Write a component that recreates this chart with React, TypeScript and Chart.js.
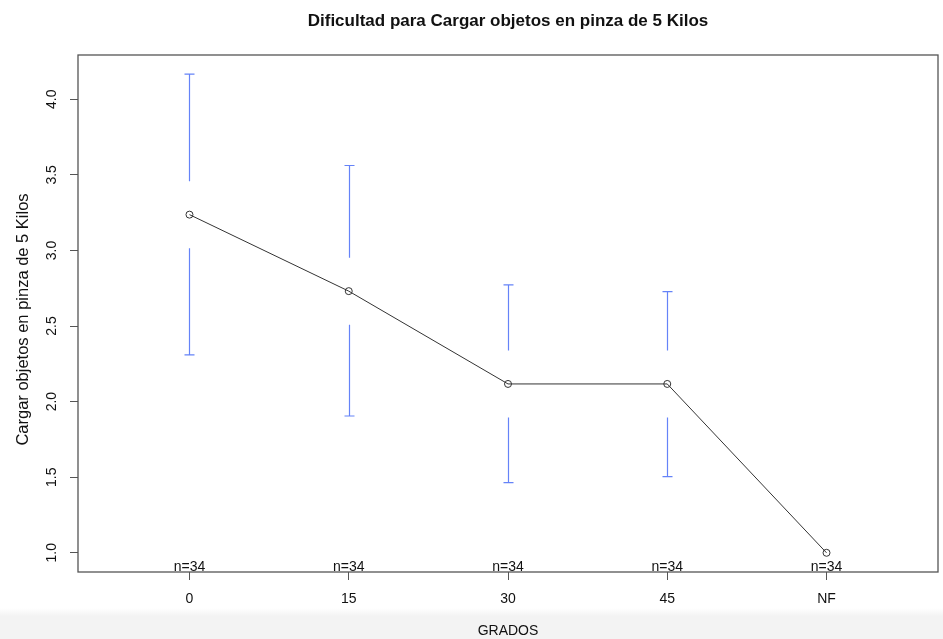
import React, { useEffect, useRef } from "react";
import { Chart, registerables } from "chart.js";

Chart.register(...registerables);

const categories = ["0", "15", "30", "45", "NF"];
const means = [3.237, 2.731, 2.117, 2.117, 1.0];
const upper = [4.167, 3.562, 2.772, 2.728, 1.0];
const lower = [2.309, 1.905, 1.464, 1.504, 1.0];
const counts = ["n=34", "n=34", "n=34", "n=34", "n=34"];
const yTicks = [1.0, 1.5, 2.0, 2.5, 3.0, 3.5, 4.0];

const TITLE = "Dificultad para Cargar objetos en pinza de 5 Kilos";
const X_TITLE = "GRADOS";
const Y_TITLE = "Cargar objetos en pinza de 5 Kilos";
const FONT = "'Liberation Sans', Arial, Helvetica, sans-serif";

const decorPlugin = {
  id: "decor",
  afterDatasetsDraw(chart: any) {
    const { ctx, chartArea, scales } = chart;
    const xs = scales.x;
    const ys = scales.y;
    ctx.save();
    // error bars
    const gap = 33.5;
    const cap = 5;
    ctx.strokeStyle = "#6583f8";
    ctx.lineWidth = 1.2;
    for (let i = 0; i < means.length; i++) {
      const px = Math.round(xs.getPixelForValue(i + 1)) + 0.5;
      const pm = ys.getPixelForValue(means[i]);
      const pu = ys.getPixelForValue(upper[i]);
      const pl = ys.getPixelForValue(lower[i]);
      if (pm - pu > gap) {
        ctx.beginPath();
        ctx.moveTo(px, pu);
        ctx.lineTo(px, pm - gap);
        ctx.moveTo(px - cap, pu);
        ctx.lineTo(px + cap, pu);
        ctx.stroke();
      }
      if (pl - pm > gap) {
        ctx.beginPath();
        ctx.moveTo(px, pl);
        ctx.lineTo(px, pm + gap);
        ctx.moveTo(px - cap, pl);
        ctx.lineTo(px + cap, pl);
        ctx.stroke();
      }
    }
    // n labels
    ctx.fillStyle = "#111";
    ctx.font = `14px ${FONT}`;
    ctx.textAlign = "center";
    ctx.textBaseline = "alphabetic";
    for (let i = 0; i < counts.length; i++) {
      const px = xs.getPixelForValue(i + 1);
      ctx.fillText(counts[i], px, chartArea.bottom - 1.5);
    }
    // box
    ctx.strokeStyle = "#555";
    ctx.lineWidth = 1.3;
    ctx.strokeRect(
      chartArea.left,
      chartArea.top,
      chartArea.right - chartArea.left,
      chartArea.bottom - chartArea.top
    );
    // titles
    const cx = (chartArea.left + chartArea.right) / 2;
    ctx.fillStyle = "#111";
    ctx.font = `bold 17px ${FONT}`;
    ctx.textBaseline = "middle";
    ctx.fillText(TITLE, cx, 21);
    ctx.font = `14px ${FONT}`;
    ctx.fillText(X_TITLE, cx, 631);
    ctx.font = `16.5px ${FONT}`;
    ctx.translate(23, (chartArea.top + chartArea.bottom) / 2 + 6);
    ctx.rotate(-Math.PI / 2);
    ctx.fillText(Y_TITLE, 0, 0);
    ctx.restore();
  },
};

export default function App() {
  const ref = useRef<HTMLCanvasElement | null>(null);
  useEffect(() => {
    if (!ref.current) return;
    const chart = new Chart(ref.current, {
      type: "line",
      data: {
        datasets: [
          {
            data: means.map((m, i) => ({ x: i + 1, y: m })),
            borderColor: "#333",
            borderWidth: 1,
            pointRadius: 3.5,
            pointBorderWidth: 1,
            pointBorderColor: "#333",
            pointBackgroundColor: "rgba(255,255,255,0)",
            tension: 0,
            fill: false,
          },
        ],
      },
      options: {
        animation: false,
        responsive: true,
        maintainAspectRatio: false,
        layout: { padding: { top: 55, left: 0, right: 3, bottom: 0 } },
        plugins: {
          legend: { display: false },
          tooltip: { enabled: false },
          title: { display: false },
        },
        scales: {
          x: {
            type: "linear",
            min: 0.3,
            max: 5.7,
            afterBuildTicks: (s: any) => {
              s.ticks = categories.map((_, i) => ({ value: i + 1 }));
            },
            afterFit: (s: any) => {
              s.height = 67;
            },
            grid: {
              drawOnChartArea: false,
              drawTicks: true,
              tickLength: 8,
              color: "#555",
              lineWidth: 1,
            },
            border: { display: false },
            ticks: {
              autoSkip: false,
              maxRotation: 0,
              padding: 11,
              color: "#111",
              font: { family: FONT, size: 14 },
              callback: (v: any) => categories[Math.round(Number(v)) - 1] ?? "",
            },
          },
          y: {
            type: "linear",
            min: 0.873,
            max: 4.293,
            afterBuildTicks: (s: any) => {
              s.ticks = yTicks.map((v) => ({ value: v }));
            },
            afterFit: (s: any) => {
              s.width = 78;
            },
            grid: {
              drawOnChartArea: false,
              drawTicks: true,
              tickLength: 8,
              color: "#555",
              lineWidth: 1,
            },
            border: { display: false },
            ticks: {
              autoSkip: false,
              minRotation: 90,
              maxRotation: 90,
              crossAlign: "center",
              padding: 8,
              color: "#111",
              font: { family: FONT, size: 14 },
              callback: (v: any) => Number(v).toFixed(1),
            },
          },
        },
      },
      plugins: [decorPlugin],
    } as any);
    return () => chart.destroy();
  }, []);
  return (
    <div
      style={{
        position: "fixed",
        left: 0,
        top: 0,
        width: 943,
        height: 639,
        background: "linear-gradient(to bottom, #ffffff 0px, #ffffff 608px, #f3f3f3 616px, #f3f3f3 639px)",
      }}
    >
      <canvas ref={ref} />
    </div>
  );
}
